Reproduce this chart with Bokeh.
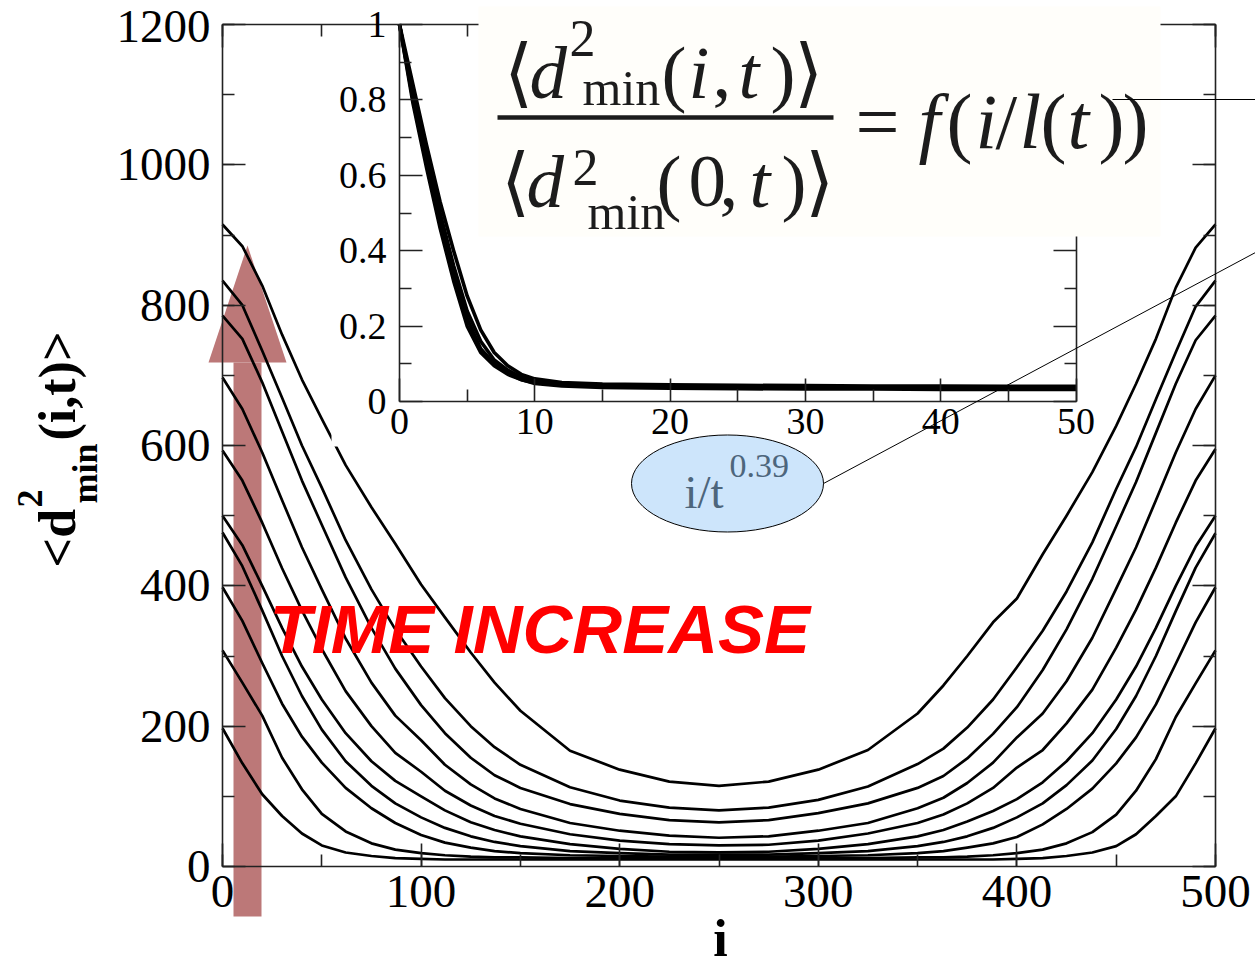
import math
from bokeh.plotting import figure
from bokeh.models import Range1d, LinearAxis, SingleIntervalTicker, FixedTicker
from bokeh.core.properties import value
from bokeh.embed import file_html
from bokeh.resources import INLINE

# ---------------- data ----------------
i_values = [0, 10, 20, 30, 40, 50, 62, 75, 87, 100, 112, 125, 137, 150, 175, 200, 225, 250,
            275, 300, 325, 350, 363, 375, 388, 400, 413, 425, 438, 450, 460, 470, 480, 490, 500]

curve_1 = [915, 884, 828, 758, 694, 638, 572, 512, 460, 402, 355, 305, 262, 222, 165, 138, 121, 115,
           121, 138, 166, 218, 258, 300, 348, 382, 445, 500, 562, 628, 688, 752, 825, 882, 915]
curve_2 = [835, 800, 735, 668, 600, 540, 465, 395, 338, 285, 240, 200, 170, 145, 113, 94, 84, 80,
           84, 95, 114, 146, 168, 198, 238, 284, 336, 392, 462, 538, 598, 666, 733, 798, 835]
curve_3 = [785, 752, 690, 620, 550, 487, 412, 340, 282, 230, 190, 155, 130, 112, 89, 75, 66, 63,
           66, 76, 90, 112, 129, 154, 189, 227, 280, 338, 410, 485, 548, 618, 688, 750, 785]
curve_4 = [697, 652, 590, 522, 455, 395, 325, 262, 215, 180, 145, 117, 97, 82, 62, 51, 44, 41,
           43, 51, 62, 83, 98, 119, 148, 184, 218, 264, 326, 396, 455, 522, 590, 652, 700]
curve_5 = [593, 550, 490, 425, 365, 310, 250, 200, 162, 135, 108, 87, 72, 61, 46, 37, 32, 30,
           31, 37, 47, 62, 74, 90, 112, 141, 166, 204, 252, 312, 366, 426, 490, 550, 595]
curve_6 = [500, 458, 400, 340, 285, 238, 190, 150, 122, 100, 80, 63, 52, 43, 32, 25, 21, 20,
           21, 25, 32, 43, 52, 64, 79, 96, 120, 150, 190, 238, 285, 340, 400, 456, 500]
curve_7 = [476, 428, 365, 300, 243, 195, 150, 115, 90, 70, 55, 43, 35, 29, 22, 19, 17, 17,
           17, 19, 22, 29, 35, 43, 55, 70, 90, 116, 151, 196, 243, 300, 364, 426, 475]
curve_8 = [398, 350, 290, 232, 185, 148, 112, 83, 62, 45, 34, 27, 22, 19, 16, 15, 14, 14,
           14, 15, 16, 19, 22, 27, 33, 42, 60, 82, 111, 147, 184, 231, 289, 348, 398]
curve_9 = [308, 262, 215, 155, 110, 75, 50, 33, 24, 19, 16, 14, 13, 13, 12, 12, 12, 12,
           12, 12, 12, 13, 13, 14, 16, 19, 24, 33, 49, 74, 108, 153, 213, 261, 308]
curve_10 = [197, 147, 103, 72, 47, 30, 20, 15, 12, 11, 10, 10, 10, 10, 10, 10, 10, 10,
            10, 10, 10, 10, 10, 10, 10, 11, 12, 15, 20, 29, 46, 72, 100, 147, 197]
main_curves = [curve_1, curve_2, curve_3, curve_4, curve_5,
               curve_6, curve_7, curve_8, curve_9, curve_10]

y_top_label = "1200"

inset_x = [0, 1, 2, 3, 4, 5, 6, 7, 8, 9, 10, 12, 15, 20, 25, 30, 35, 40, 45, 50]
inset_a = [1.0, 0.79, 0.62, 0.46, 0.32, 0.20, 0.13, 0.095, 0.072, 0.058, 0.050,
           0.045, 0.042, 0.040, 0.039, 0.038, 0.037, 0.037, 0.036, 0.036]
inset_b = [1.0, 0.84, 0.68, 0.53, 0.40, 0.28, 0.19, 0.13, 0.095, 0.072, 0.060,
           0.050, 0.046, 0.044, 0.043, 0.042, 0.041, 0.041, 0.040, 0.040]
inset_c = [1.0, 0.81, 0.65, 0.50, 0.36, 0.24, 0.16, 0.11, 0.083, 0.065, 0.055,
           0.047, 0.043, 0.041, 0.040, 0.039, 0.038, 0.038, 0.037, 0.037]
inset_d = [1.0, 0.80, 0.63, 0.48, 0.34, 0.22, 0.14, 0.10, 0.075, 0.058, 0.048,
           0.041, 0.037, 0.035, 0.034, 0.033, 0.033, 0.032, 0.032, 0.032]
inset_curves = [inset_a, inset_b, inset_c, inset_d]

inset_yticks = [0, 0.2, 0.4, 0.6, 0.8, 1.0]
inset_ytick_labels = ["0", "0.2", "0.4", "0.6", "0.8", "1"]
inset_yminor = [0.1, 0.3, 0.5, 0.7, 0.9]
inset_xticks = [0, 10, 20, 30, 40, 50]
inset_xtick_labels = ["0", "10", "20", "30", "40", "50"]
inset_xminor = [5, 15, 25, 35, 45]

# ---------------- geometry: page pixels <-> data ----------------
W, H = 1255, 967
FL, FR, FT, FB = 222, 1215, 24, 866          # main plot box (px)
IL, IR, IT, IB = 399, 1075.5, 24, 401        # inset plot box (px)


def X(px):
    return (px - FL) * 500.0 / (FR - FL)


def Y(py):
    return (FB - py) * 1200.0 / (FB - FT)


def IXr(px):
    return (px - IL) * 50.0 / (IR - IL)


def IYr(py):
    return (IB - py) * 1.0 / (IB - IT)


SERIF = "Liberation Serif"
SANS = "Liberation Sans"
INK = "#1c1c1c"
MID = 0.34     # em-box middle above the baseline

p = figure(width=W, height=H, x_range=Range1d(X(0), X(W)), y_range=Range1d(Y(H), Y(0)),
           output_backend="svg", toolbar_location=None,
           x_axis_location=None, y_axis_location=None,
           min_border=0, min_border_left=0, min_border_right=0,
           min_border_top=0, min_border_bottom=0)
p.title.visible = False
p.outline_line_color = None
p.background_fill_color = "white"
p.border_fill_color = "white"
p.xgrid.visible = False
p.ygrid.visible = False

p.extra_x_ranges = {"ix": Range1d(IXr(0), IXr(W))}
p.extra_y_ranges = {"iy": Range1d(IYr(H), IYr(0))}


def style_axis(ax, labels, size="47px"):
    ax.axis_line_width = 1.6
    ax.axis_line_color = "#222222"
    ax.major_tick_in = 23
    ax.major_tick_out = 0
    ax.minor_tick_in = 12
    ax.minor_tick_out = 0
    ax.major_tick_line_width = 1.6
    ax.minor_tick_line_width = 1.6
    ax.major_tick_line_color = "#222222"
    ax.minor_tick_line_color = "#222222"
    if labels:
        ax.major_label_text_font = SERIF
        ax.major_label_text_font_size = size
        ax.major_label_text_color = "black"
    else:
        ax.major_label_text_color = None
        ax.major_label_text_font_size = "8px"


# ---- main axes (fixed at the main plot box edges) ----
yax = LinearAxis(ticker=SingleIntervalTicker(interval=200, num_minor_ticks=2),
                 fixed_location=0, bounds=(0, 1200),
                 major_label_overrides={1200: ""})
style_axis(yax, True)
yax.major_label_standoff = 12
p.add_layout(yax, "left")

xax = LinearAxis(ticker=SingleIntervalTicker(interval=100, num_minor_ticks=2),
                 fixed_location=0, bounds=(0, 500))
style_axis(xax, True)
xax.major_label_standoff = 9
p.add_layout(xax, "below")

yax_r = LinearAxis(ticker=SingleIntervalTicker(interval=200, num_minor_ticks=2),
                   fixed_location=500, bounds=(0, 1200))
style_axis(yax_r, False)
p.add_layout(yax_r, "right")

for bnd in [(0, 90), (470, 500)]:
    xt = LinearAxis(ticker=SingleIntervalTicker(interval=100, num_minor_ticks=2),
                    fixed_location=1200, bounds=bnd)
    style_axis(xt, False)
    p.add_layout(xt, "above")

# ---------------- big "time" arrow (under the curves) ----------------
ARROW_C = "#bc7878"
p.quad(left=[X(233)], right=[X(261)], top=[Y(362)], bottom=[Y(916)],
       fill_color=ARROW_C, line_color=None, level="underlay")
p.patch(x=[X(208), X(286), X(247)], y=[Y(362), Y(362), Y(245)],
        fill_color=ARROW_C, line_color=None, level="underlay")

# ---------------- main curves ----------------
for vals in main_curves:
    p.line(i_values, vals, line_color="black", line_width=2.7, line_join="round")

# ---------------- inset ----------------
p.quad(left=[X(331)], right=[X(1082)], bottom=[Y(446)], top=[Y(25.5)],
       fill_color="white", line_color=None)

for vals in inset_curves:
    p.line(inset_x, vals, x_range_name="ix", y_range_name="iy",
           line_color="black", line_width=3.6, line_join="round")

iy_left = LinearAxis(x_range_name="ix", y_range_name="iy", fixed_location=0, bounds=(0, 1),
                     ticker=FixedTicker(ticks=inset_yticks, minor_ticks=inset_yminor),
                     major_label_overrides=dict(zip(inset_yticks, inset_ytick_labels)))
style_axis(iy_left, True, "38px")
iy_left.major_label_standoff = 13
p.add_layout(iy_left, "left")

ix_bottom = LinearAxis(x_range_name="ix", y_range_name="iy", fixed_location=0, bounds=(0, 50),
                       ticker=FixedTicker(ticks=inset_xticks, minor_ticks=inset_xminor),
                       major_label_overrides=dict(zip(inset_xticks, inset_xtick_labels)))
style_axis(ix_bottom, True, "38px")
ix_bottom.major_label_standoff = 7
p.add_layout(ix_bottom, "below")

iy_right = LinearAxis(x_range_name="ix", y_range_name="iy", fixed_location=50, bounds=(0, 1),
                      ticker=FixedTicker(ticks=inset_yticks, minor_ticks=inset_yminor))
style_axis(iy_right, False)
p.add_layout(iy_right, "right")

ix_top = LinearAxis(x_range_name="ix", y_range_name="iy", fixed_location=1, bounds=(0, 50),
                    ticker=FixedTicker(ticks=inset_xticks, minor_ticks=inset_xminor))
style_axis(ix_top, False)
p.add_layout(ix_top, "above")


# ---------------- text helpers ----------------
def T(txt, px, base_py, size, style="normal", color=INK, font=SERIF, align="left"):
    p.text(x=[X(px)], y=[Y(base_py - MID * size)], text=[txt],
           text_font=value(font), text_font_size=f"{size}px", text_font_style=style,
           text_color=color, text_align=align, text_baseline="middle", level="annotation")


def TR(txt, base_px, start_py, size, style="bold", color="black", font=SERIF):
    p.text(x=[X(base_px - MID * size)], y=[Y(start_py)], text=[txt], angle=math.pi / 2,
           text_font=value(font), text_font_size=f"{size}px", text_font_style=style,
           text_color=color, text_align="left", text_baseline="middle", level="annotation")


# top y tick label, nudged to stay inside the page
T(y_top_label, 210, 42, 47, color="black", align="right")

# ellipse label "i/t^0.39"
p.ellipse(x=[X(727)], y=[Y(483)], width=192, height=97,
          width_units="screen", height_units="screen",
          fill_color="#cde5fb", line_color="black", line_width=1, level="annotation")
T("i/t", 684, 507, 47, color="#4d667c")
T("0.39", 729, 477, 34, color="#4d667c")

# ---------------- formula ----------------
p.quad(left=[X(478)], right=[X(1160)], top=[Y(6)], bottom=[Y(236)],
       fill_color="#fffefa", line_color=None, level="annotation")

# numerator
T("\u27e8", 503, 97, 75)
T("d", 529, 97, 75, "italic")
T("2", 569, 56, 52)
T("min", 582, 104, 50)
T("(", 661, 97, 75)
T("i", 688, 97, 75, "italic")
T(",", 712, 97, 75)
T("t", 738, 97, 75, "italic")
T(")", 770, 97, 75)
T("\u27e9", 793, 97, 75)
# fraction bar
p.segment(x0=[X(497)], y0=[Y(117)], x1=[X(833)], y1=[Y(117)],
          line_color=INK, line_width=4.5, level="annotation")
# denominator
T("\u27e8", 500, 206, 75)
T("d", 526, 206, 75, "italic")
T("2", 572, 185, 52)
T("min", 587, 228, 50)
T("(", 656, 206, 75)
T("0", 688, 206, 75)
T(",", 719, 206, 75)
T("t", 749, 206, 75, "italic")
T(")", 781, 206, 75)
T("\u27e9", 804, 206, 75)
# right-hand side
T("=", 855, 148, 78)
T("f", 918, 148, 78, "italic")
T("(", 946, 148, 78)
T("i", 975, 148, 78, "italic")
T("/", 995, 148, 78)
T("l", 1019, 148, 78, "italic")
T("(", 1040, 148, 78)
T("t", 1067, 148, 78, "italic")
T(")", 1098, 148, 78)
T(")", 1122, 148, 78)

# pointer lines
p.segment(x0=[X(823), X(1112)], y0=[Y(483), Y(99)], x1=[X(1255), X(1255)], y1=[Y(252), Y(99)],
          line_color="black", line_width=1, level="annotation")

# ---------------- other texts ----------------
T("TIME INCREASE", 269, 652, 69, "bold italic", color="#ff0000", font=SANS)
T("i", 720, 956, 52, "bold", color="black", align="center")

TR("<d", 75, 567, 52)
TR("2", 42, 507, 36)
TR("min", 97, 503, 36)
TR("(i,t)>", 75, 440, 52)

open("out.html", "w").write(file_html(p, INLINE))
